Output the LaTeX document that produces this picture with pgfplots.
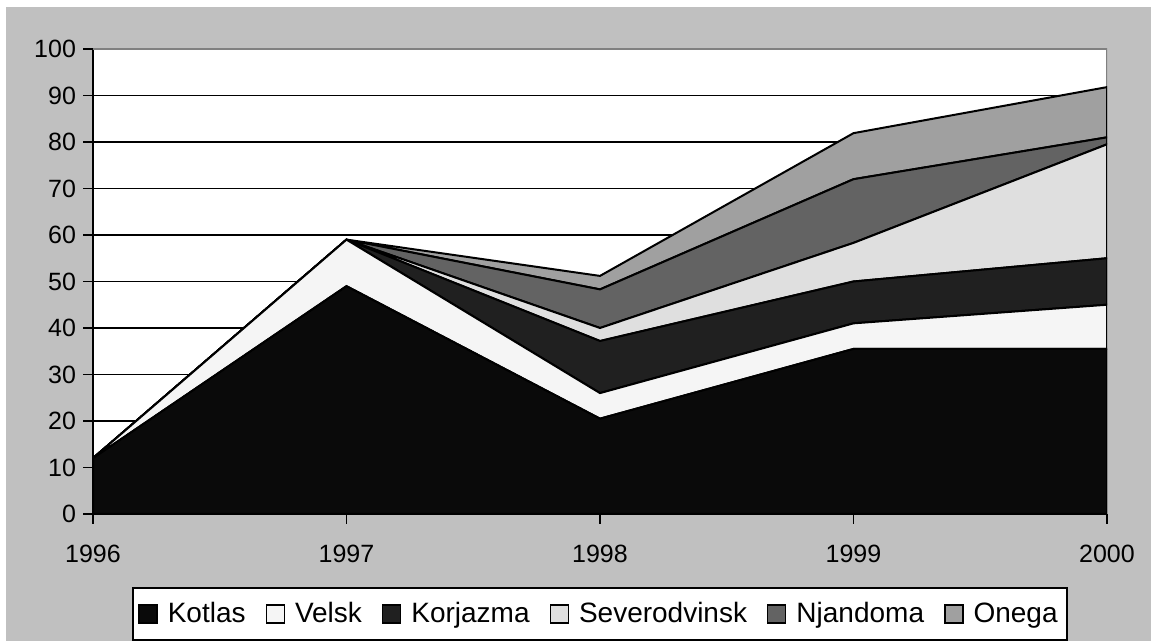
\documentclass[border=0pt]{standalone}
\usepackage{pgfplots}
\pgfplotsset{compat=1.18}
\usepackage{fontspec}
\setmainfont{Liberation Sans}
\definecolor{bg}{HTML}{C0C0C0}
\definecolor{cKotlas}{HTML}{0A0A0A}
\definecolor{cVelsk}{HTML}{F5F5F5}
\definecolor{cKorjazma}{HTML}{202020}
\definecolor{cSeverodvinsk}{HTML}{DFDFDF}
\definecolor{cNjandoma}{HTML}{636363}
\definecolor{cOnega}{HTML}{A0A0A0}
\definecolor{border}{HTML}{808080}
\begin{document}
\begin{tikzpicture}[x=1pt,y=1pt]
\fill[white] (0,0) rectangle (575.5,320.5);
\fill[bg] (3,0) rectangle (575.5,317);
\begin{axis}[
  at={(46.5pt,63.5pt)}, anchor=south west,
  scale only axis, width=507pt, height=232.5pt,
  xmin=1996, xmax=2000, ymin=0, ymax=100,
  xtick={1996,1997,1998,1999,2000},
  xticklabels={1996,1997,1998,1999,2000},
  ytick={0,10,...,100},
  axis lines*=left,
  axis line style={black, line width=1pt},
  tick align=outside, major tick length=5pt,
  tick style={black, line width=0.9pt},
  ymajorgrids, grid style={black, line width=0.9pt},
  axis background/.style={fill=white},
  stack plots=y,
  ticklabel style={font=\fontsize{12.5}{15}\selectfont},
  xticklabel style={yshift=-7pt},
  /pgf/number format/assume math mode=true,
  legend image code/.code={\draw[#1,draw=black,line width=0.7pt] (0pt,-4.5pt) rectangle (9pt,4.5pt);},
  legend style={at={(0.5,-0.215)}, anchor=center, draw=black, line width=1pt, fill=white,
    font=\fontsize{14}{16}\selectfont, legend columns=-1, inner xsep=2.5pt, inner ysep=5pt,
    /tikz/every even column/.append style={column sep=8pt},
    /tikz/every odd column/.append style={column sep=3pt}},
  every axis plot/.append style={draw=black, line width=1pt},
]
\addplot[fill=cKotlas] coordinates {(1996,12) (1997,49) (1998,20.5) (1999,35.5) (2000,35.5)} \closedcycle;
\addlegendentry{Kotlas}
\addplot[fill=cVelsk] coordinates {(1996,0) (1997,10) (1998,5.5) (1999,5.5) (2000,9.5)} \closedcycle;
\addlegendentry{Velsk}
\addplot[fill=cKorjazma] coordinates {(1996,0) (1997,0) (1998,11.2) (1999,9) (2000,10)} \closedcycle;
\addlegendentry{Korjazma}
\addplot[fill=cSeverodvinsk] coordinates {(1996,0) (1997,0) (1998,2.8) (1999,8.3) (2000,24.5)} \closedcycle;
\addlegendentry{Severodvinsk}
\addplot[fill=cNjandoma] coordinates {(1996,0) (1997,0) (1998,8.3) (1999,13.7) (2000,1.5)} \closedcycle;
\addlegendentry{Njandoma}
\addplot[fill=cOnega] coordinates {(1996,0) (1997,0) (1998,2.9) (1999,9.9) (2000,10.8)} \closedcycle;
\addlegendentry{Onega}
\draw[border, line width=1pt] (rel axis cs:0,1) -- (rel axis cs:1,1) -- (rel axis cs:1,0);
\end{axis}
\end{tikzpicture}
\end{document}
